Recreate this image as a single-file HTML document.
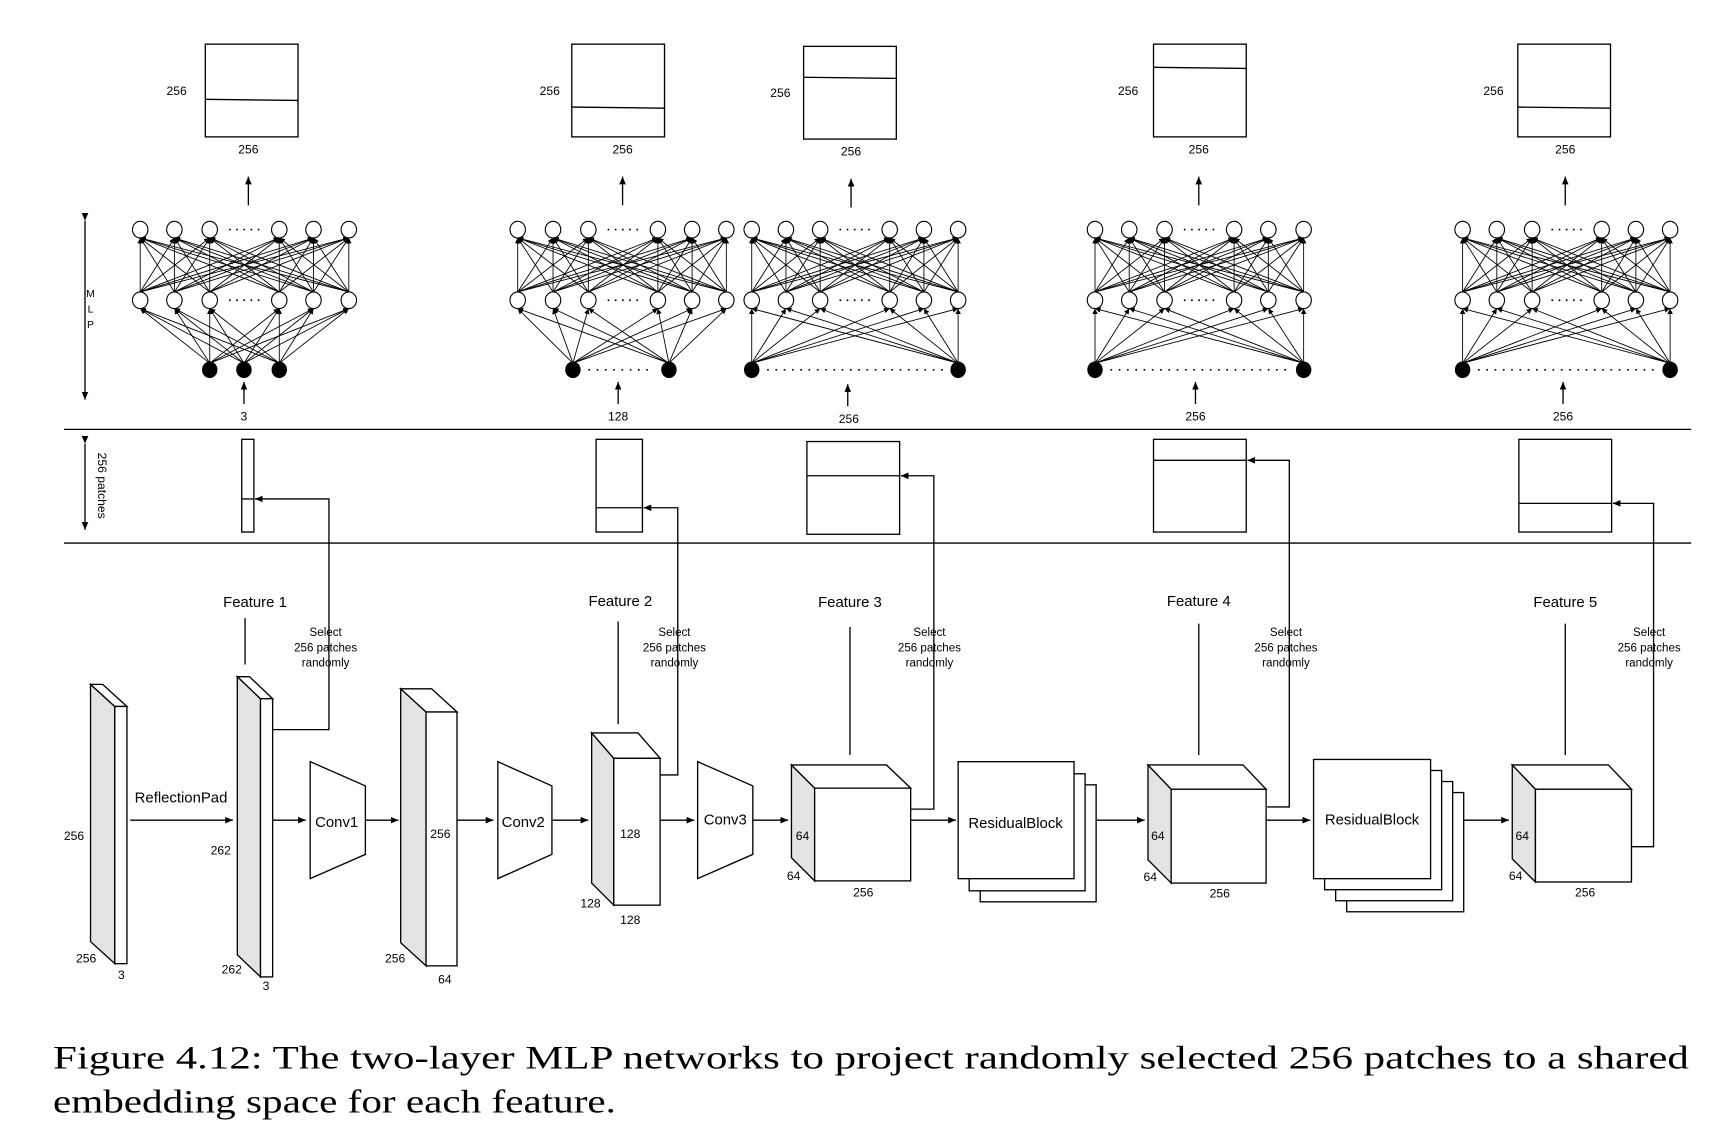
<!DOCTYPE html>
<html><head><meta charset="utf-8"><style>
html,body{margin:0;padding:0;background:#fff;}
svg{display:block;}
text{font-family:"Liberation Sans",sans-serif;fill:#000;}
.s{font-size:11px;}
.m{font-size:13.5px;}
.cap{font-family:"Liberation Serif",serif;font-size:30px;}
</style></head><body>
<svg id="g" width="1722" height="1132" viewBox="0 0 1560 1025.5" preserveAspectRatio="none" xmlns="http://www.w3.org/2000/svg">
<defs><marker id="a" markerWidth="8" markerHeight="8" refX="7" refY="4" orient="auto" markerUnits="userSpaceOnUse"><path d="M0,1 L7,4 L0,7 z" fill="#000"/></marker>
<marker id="b" markerWidth="6" markerHeight="6" refX="5" refY="3" orient="auto" markerUnits="userSpaceOnUse"><path d="M0,0.5 L5,3 L0,5.5 z" fill="#000"/></marker></defs>
<g fill="none" stroke="#000" stroke-width="1.2">
<rect x="186" y="40" width="84" height="84"/><line x1="186" y1="90" x2="270" y2="91"/>
<rect x="518" y="40" width="84" height="84"/><line x1="518" y1="97" x2="602" y2="98"/>
<rect x="728" y="42" width="84" height="84"/><line x1="728" y1="70" x2="812" y2="71"/>
<rect x="1045" y="40" width="84" height="84"/><line x1="1045" y1="61" x2="1129" y2="62"/>
<rect x="1375" y="40" width="84" height="84"/><line x1="1375" y1="97" x2="1459" y2="98"/>
<g marker-end="url(#a)">
<line x1="225" y1="186" x2="225" y2="160"/><line x1="564" y1="186" x2="564" y2="160"/>
<line x1="771" y1="188" x2="771" y2="162"/><line x1="1086" y1="186" x2="1086" y2="160"/>
<line x1="1418" y1="186" x2="1418" y2="160"/>
<line x1="221" y1="366" x2="221" y2="346"/><line x1="560" y1="366" x2="560" y2="346"/>
<line x1="768" y1="368" x2="768" y2="348"/><line x1="1083" y1="366" x2="1083" y2="346"/>
<line x1="1416" y1="366" x2="1416" y2="346"/>
</g>
<line x1="77" y1="200" x2="77" y2="362" marker-end="url(#a)" marker-start="url(#a)"/>
<line x1="77" y1="402" x2="77" y2="480" marker-end="url(#a)" marker-start="url(#a)"/>
<line x1="58" y1="389" x2="1532" y2="389"/><line x1="58" y1="492" x2="1532" y2="492"/>
<rect x="219" y="398" width="11" height="84"/><line x1="219" y1="452" x2="230" y2="452"/>
<rect x="540" y="398" width="42" height="84"/><line x1="540" y1="460" x2="582" y2="460"/>
<rect x="731" y="400" width="84" height="84"/><line x1="731" y1="431" x2="815" y2="431"/>
<rect x="1045" y="398" width="84" height="84"/><line x1="1045" y1="417" x2="1129" y2="417"/>
<rect x="1376" y="398" width="84" height="84"/><line x1="1376" y1="456" x2="1460" y2="456"/>
<g marker-end="url(#a)">
<polyline points="247,661 298,661 298,452 231,452"/>
<polyline points="598,702 614,702 614,460 583,460"/>
<polyline points="825,733 846,733 846,431 816,431"/>
<polyline points="1148,731 1168,731 1168,417 1130,417"/>
<polyline points="1478,767 1498,767 1498,456 1461,456"/>
</g>
<line x1="222" y1="560" x2="222" y2="602"/><line x1="560" y1="563" x2="560" y2="656"/>
<line x1="770" y1="568" x2="770" y2="684"/><line x1="1086" y1="565" x2="1086" y2="684"/>
<line x1="1418" y1="565" x2="1418" y2="684"/>
<polygon points="82,620 104,640 104,873 82,853" fill="#e3e3e3"/>
<polygon points="82,620 93,620 115,640 104,640" fill="#fff"/>
<rect x="104" y="640" width="11" height="233" fill="#fff"/>
<polygon points="215,613 236,633 236,885 215,865" fill="#e3e3e3"/>
<polygon points="215,613 226,613 247,633 236,633" fill="#fff"/>
<rect x="236" y="633" width="11" height="252" fill="#fff"/>
<polygon points="363,624 386,645 386,875 363,854" fill="#e3e3e3"/>
<polygon points="363,624 391,624 414,645 386,645" fill="#fff"/>
<rect x="386" y="645" width="28" height="230" fill="#fff"/>
<polygon points="536,664 556,687 556,820 536,800" fill="#e3e3e3"/>
<polygon points="536,664 578,664 598,687 556,687" fill="#fff"/>
<rect x="556" y="687" width="42" height="133" fill="#fff"/>
<polygon points="281,690 331,712 331,774 281,796"/>
<polygon points="451,690 500,712 500,774 451,796"/>
<polygon points="632,690 682,712 682,774 632,796"/>
<polygon points="717,693 738,714 738,798 717,777" fill="#e3e3e3"/>
<polygon points="717,693 803,693 825,714 738,714" fill="#fff"/>
<rect x="738" y="714" width="87" height="84" fill="#fff"/>
<polygon points="1040,693 1061,715 1061,800 1040,779" fill="#e3e3e3"/>
<polygon points="1040,693 1126,693 1147,715 1061,715" fill="#fff"/>
<rect x="1061" y="715" width="86" height="85" fill="#fff"/>
<polygon points="1370,693 1391,715 1391,799 1370,778" fill="#e3e3e3"/>
<polygon points="1370,693 1457,693 1478,715 1391,715" fill="#fff"/>
<rect x="1391" y="715" width="87" height="84" fill="#fff"/>
<rect x="888" y="711" width="105" height="106" fill="#fff"/>
<rect x="878" y="701" width="105" height="106" fill="#fff"/>
<rect x="868" y="690" width="105" height="106" fill="#fff"/>
<rect x="1220" y="718" width="106" height="108" fill="#fff"/>
<rect x="1210" y="708" width="106" height="108" fill="#fff"/>
<rect x="1200" y="698" width="106" height="108" fill="#fff"/>
<rect x="1190" y="688" width="106" height="108" fill="#fff"/>
<g marker-end="url(#a)">
<line x1="118" y1="743" x2="211" y2="743"/><line x1="247" y1="743" x2="277" y2="743"/>
<line x1="331" y1="743" x2="361" y2="743"/><line x1="414" y1="743" x2="447" y2="743"/>
<line x1="500" y1="743" x2="533" y2="743"/><line x1="598" y1="743" x2="629" y2="743"/>
<line x1="682" y1="743" x2="714" y2="743"/><line x1="825" y1="743" x2="866" y2="743"/>
<line x1="993" y1="743" x2="1037" y2="743"/><line x1="1147" y1="743" x2="1187" y2="743"/>
<line x1="1326" y1="743" x2="1367" y2="743"/>
</g>
</g>
<g id="nets"></g>
<g class="s" text-anchor="middle">
<text x="160" y="86">256</text><text x="225" y="139">256</text>
<text x="498" y="86">256</text><text x="564" y="139">256</text>
<text x="707" y="88">256</text><text x="771" y="141">256</text>
<text x="1022" y="86">256</text><text x="1086" y="139">256</text>
<text x="1353" y="86">256</text><text x="1418" y="139">256</text>
<text x="221" y="381">3</text><text x="560" y="381">128</text><text x="769" y="383">256</text>
<text x="1083" y="381">256</text><text x="1416" y="381">256</text>
<text x="82" y="269" font-size="9.5px">M</text><text x="82" y="283" font-size="9.5px">L</text><text x="82" y="297" font-size="9.5px">P</text>
<text x="0" y="0" transform="translate(89,440) rotate(90)">256 patches</text>
<g font-size="10.5px">
<text x="295" y="576">Select</text><text x="295" y="590">256 patches</text><text x="295" y="604">randomly</text>
<text x="611" y="576">Select</text><text x="611" y="590">256 patches</text><text x="611" y="604">randomly</text>
<text x="842" y="576">Select</text><text x="842" y="590">256 patches</text><text x="842" y="604">randomly</text>
<text x="1165" y="576">Select</text><text x="1165" y="590">256 patches</text><text x="1165" y="604">randomly</text>
<text x="1494" y="576">Select</text><text x="1494" y="590">256 patches</text><text x="1494" y="604">randomly</text>
</g>
<text x="67" y="761">256</text><text x="78" y="872">256</text><text x="110" y="887">3</text>
<text x="200" y="774">262</text><text x="210" y="882">262</text><text x="241" y="897">3</text>
<text x="399" y="759">256</text><text x="358" y="872">256</text><text x="403" y="891">64</text>
<text x="571" y="759">128</text><text x="535" y="822">128</text><text x="571" y="837">128</text>
<text x="727" y="761">64</text><text x="719" y="797">64</text><text x="782" y="812">256</text>
<text x="1049" y="761">64</text><text x="1042" y="798">64</text><text x="1105" y="813">256</text>
<text x="1379" y="761">64</text><text x="1373" y="797">64</text><text x="1436" y="812">256</text>
</g>
<g class="m" text-anchor="middle">
<text x="231" y="550">Feature 1</text><text x="562" y="549">Feature 2</text><text x="770" y="550">Feature 3</text>
<text x="1086" y="549">Feature 4</text><text x="1418" y="550">Feature 5</text>
<text x="164" y="727">ReflectionPad</text><text x="305" y="749">Conv1</text><text x="474" y="749">Conv2</text>
<text x="657" y="747">Conv3</text><text x="920" y="750">ResidualBlock</text><text x="1243" y="747">ResidualBlock</text>
</g>
<text class="cap" x="48" y="968" textLength="1482" lengthAdjust="spacingAndGlyphs">Figure 4.12:   The two-layer MLP networks to project randomly selected 256 patches to a shared</text>
<text class="cap" x="48" y="1008" textLength="510" lengthAdjust="spacingAndGlyphs">embedding space for each feature.</text>
</svg>
<script>
(function(){
var ns="http://www.w3.org/2000/svg",g=document.getElementById("nets");
function el(t,a){var e=document.createElementNS(ns,t);for(var k in a)e.setAttribute(k,a[k]);g.appendChild(e);return e;}
var nets=[[[127,158,190,253,284,316],[190,221,253],null],
[[469,501,533,596,627,658],[519,606],1],
[[681,712,743,806,837,868],[681,868],1],
[[992,1023,1055,1118,1149,1181],[992,1181],1],
[[1325,1356,1388,1451,1482,1513],[1325,1513],1]];
var y1=208,y2=272,y3=335,r=7.5;
nets.forEach(function(n){
 var xs=n[0],ins=n[1];
 xs.forEach(function(a){xs.forEach(function(b){
  el("line",{x1:a,y1:y2-r,x2:b,y2:y1+r,stroke:"#000","stroke-width":0.8,"marker-end":"url(#b)"});});});
 ins.forEach(function(a){xs.forEach(function(b){
  el("line",{x1:a,y1:y3-6,x2:b,y2:y2+r,stroke:"#000","stroke-width":0.8,"marker-end":"url(#b)"});});});
 xs.forEach(function(x){
  el("ellipse",{cx:x,cy:y1,rx:7,ry:7.5,fill:"#fff",stroke:"#000","stroke-width":1});
  el("ellipse",{cx:x,cy:y2,rx:7,ry:7.5,fill:"#fff",stroke:"#000","stroke-width":1});});
 ins.forEach(function(x){el("ellipse",{cx:x,cy:y3,rx:7,ry:7.5,fill:"#000"});});
 var mx=(xs[2]+xs[3])/2;
 [y1,y2].forEach(function(y){el("line",{x1:mx-14,y1:y,x2:mx+14,y2:y,stroke:"#000","stroke-width":1.5,"stroke-dasharray":"1.5,5"});});
 if(n[2]) el("line",{x1:ins[0]+14,y1:y3,x2:ins[1]-14,y2:y3,stroke:"#000","stroke-width":1.5,"stroke-dasharray":"1.5,6"});
});
})();
</script>
</body></html>
